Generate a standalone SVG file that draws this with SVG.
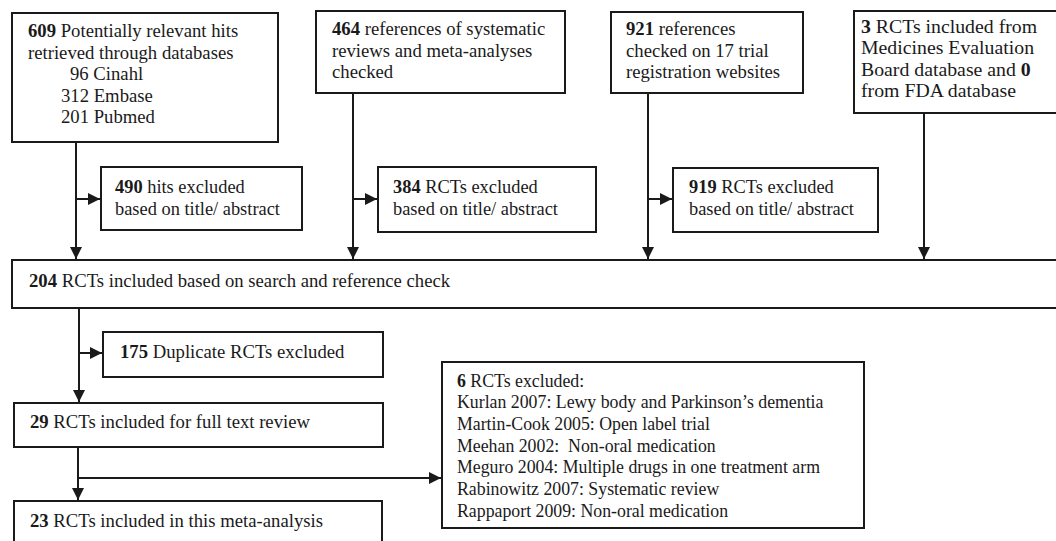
<svg xmlns="http://www.w3.org/2000/svg" width="1056" height="541" viewBox="0 0 1056 541">
<style>
.box{fill:#fff;stroke:#1a1a1a;stroke-width:2}
.t{font-family:"Liberation Serif","Times New Roman",serif;font-size:18.7px;fill:#1a1a1a}
.s{font-size:18.4px}
.l{font-size:19.8px}
.x{font-size:17.8px}
.b{font-weight:bold}
.c{stroke:#1a1a1a;stroke-width:2;fill:none}
</style>
<defs>
<marker id="ah" viewBox="0 0 12 12" refX="12" refY="6" markerWidth="12" markerHeight="12" markerUnits="userSpaceOnUse" orient="auto">
<path d="M0,0 L12,6 L0,12 Z" fill="#1a1a1a"/>
</marker>
</defs>
<g id="connectors">
<path class="c" d="M76,142 V259" marker-end="url(#ah)"/>
<path class="c" d="M76,199 H100" marker-end="url(#ah)"/>
<path class="c" d="M353,93 V259" marker-end="url(#ah)"/>
<path class="c" d="M353,199 H377" marker-end="url(#ah)"/>
<path class="c" d="M648,93 V259" marker-end="url(#ah)"/>
<path class="c" d="M648,199 H672" marker-end="url(#ah)"/>
<path class="c" d="M924,113 V259" marker-end="url(#ah)"/>
<path class="c" d="M79,308 V402" marker-end="url(#ah)"/>
<path class="c" d="M79,353 H102" marker-end="url(#ah)"/>
<path class="c" d="M78,447 V500" marker-end="url(#ah)"/>
<path class="c" d="M78,478 H441" marker-end="url(#ah)"/>
</g>
<g id="n609">
<rect class="box" x="12" y="13" width="266" height="129"/>
<text class="t" x="28" y="37"><tspan class="b">609</tspan> Potentially relevant hits</text>
<text class="t" x="28" y="59">retrieved through databases</text>
<text class="t" x="70" y="80">96 Cinahl</text>
<text class="t" x="61" y="102">312 Embase</text>
<text class="t" x="61" y="123">201 Pubmed</text>
</g>
<g id="n464">
<rect class="box" x="316" y="11" width="249" height="82"/>
<text class="t" x="332" y="35"><tspan class="b">464</tspan> references of systematic</text>
<text class="t" x="332" y="57">reviews and meta-analyses</text>
<text class="t" x="332" y="78">checked</text>
</g>
<g id="n921">
<rect class="box" x="611" y="12" width="192" height="81"/>
<text class="t" x="626" y="35"><tspan class="b">921</tspan> references</text>
<text class="t" x="626" y="57">checked on 17 trial</text>
<text class="t" x="626" y="78">registration websites</text>
</g>
<g id="n3">
<rect class="box" x="854" y="11" width="210" height="102"/>
<text class="t l" x="861" y="33"><tspan class="b">3</tspan> RCTs included from</text>
<text class="t l" x="861" y="54">Medicines Evaluation</text>
<text class="t l" x="861" y="76">Board database and <tspan class="b">0</tspan></text>
<text class="t l" x="861" y="97">from FDA database</text>
</g>
<g id="n490">
<rect class="box" x="101" y="167" width="201" height="63"/>
<text class="t s" x="115" y="193"><tspan class="b">490</tspan> hits excluded</text>
<text class="t s" x="115" y="215">based on title/ abstract</text>
</g>
<g id="n384">
<rect class="box" x="378" y="167" width="218" height="65"/>
<text class="t s" x="393" y="193"><tspan class="b">384</tspan> RCTs excluded</text>
<text class="t s" x="393" y="215">based on title/ abstract</text>
</g>
<g id="n919">
<rect class="box" x="673" y="168" width="205" height="64"/>
<text class="t s" x="689" y="193"><tspan class="b">919</tspan> RCTs excluded</text>
<text class="t s" x="689" y="215">based on title/ abstract</text>
</g>
<g id="n204">
<rect class="box" x="12" y="260" width="1060" height="48"/>
<text class="t" x="29" y="287"><tspan class="b">204</tspan> RCTs included based on search and reference check</text>
</g>
<g id="n175">
<rect class="box" x="103" y="332" width="280" height="45"/>
<text class="t" x="120" y="358"><tspan class="b">175</tspan> Duplicate RCTs excluded</text>
</g>
<g id="n29">
<rect class="box" x="14" y="403" width="369" height="44"/>
<text class="t" x="30" y="428"><tspan class="b">29</tspan> RCTs included for full text review</text>
</g>
<g id="n6">
<rect class="box" x="442" y="362" width="422" height="166"/>
<text class="t x" x="457" y="387"><tspan class="b">6</tspan> RCTs excluded:</text>
<text class="t x" x="457" y="408">Kurlan 2007: Lewy body and Parkinson’s dementia</text>
<text class="t x" x="457" y="430">Martin-Cook 2005: Open label trial</text>
<text class="t x" x="457" y="452" xml:space="preserve">Meehan 2002:  Non-oral medication</text>
<text class="t x" x="457" y="473">Meguro 2004: Multiple drugs in one treatment arm</text>
<text class="t x" x="457" y="495">Rabinowitz 2007: Systematic review</text>
<text class="t x" x="457" y="517">Rappaport 2009: Non-oral medication</text>
</g>
<g id="n23">
<rect class="box" x="14" y="501" width="368" height="50"/>
<text class="t" x="30" y="527"><tspan class="b">23</tspan> RCTs included in this meta-analysis</text>
</g>
</svg>
